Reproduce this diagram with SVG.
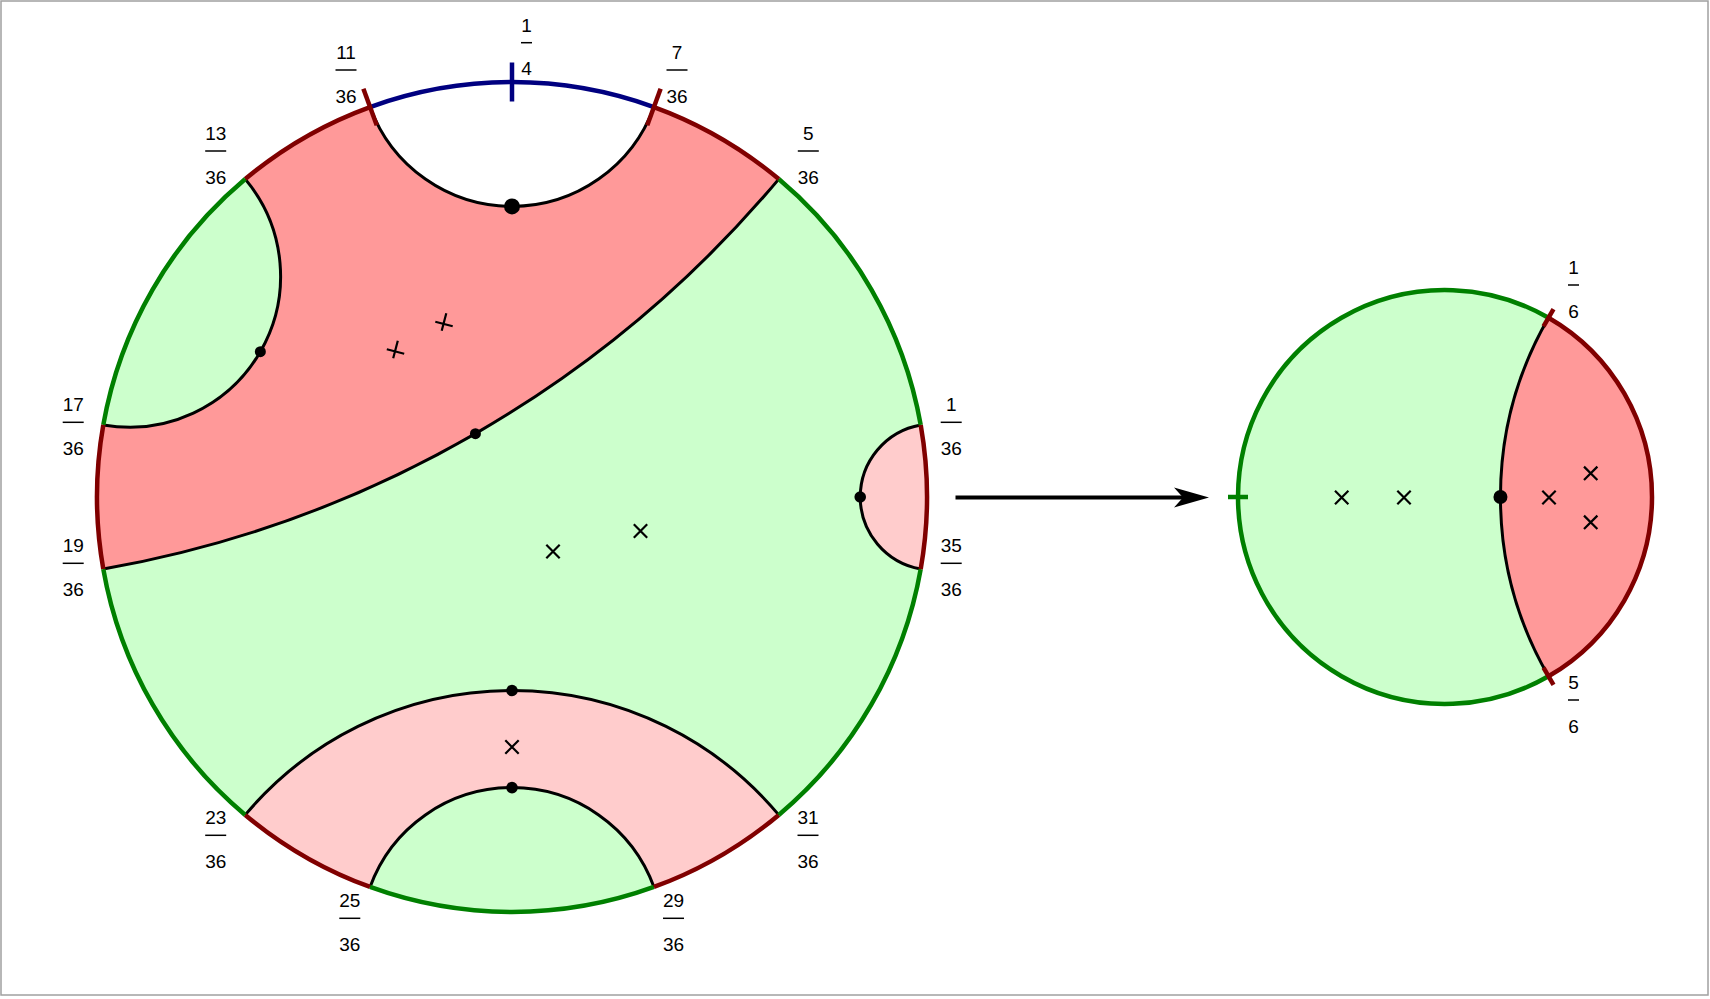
<svg xmlns="http://www.w3.org/2000/svg" width="1710" height="999" viewBox="0 0 1710 999">
<style>
.red{fill:#ff9999;stroke:none}
.pink{fill:#ffcccc;stroke:none}
.grn{fill:#ccffcc;stroke:none}
.geo{fill:none;stroke:#000;stroke-width:3}
.bR{fill:none;stroke:#800000;stroke-width:4.5}
.bG{fill:none;stroke:#008000;stroke-width:4.5}
.bB{fill:none;stroke:#000080;stroke-width:4.5}
.x{fill:none;stroke:#000;stroke-width:2.2}
.lbl{font-family:"Liberation Sans",Arial,sans-serif;font-size:19px;fill:#000;text-anchor:middle}
.bar{stroke:#000;stroke-width:1.5}
</style>
<defs>
<path id="cross" class="x" d="M-6.7,-6.7L6.7,6.7M-6.7,6.7L6.7,-6.7"/>
<g id="f36"><line class="bar" x1="-10.5" y1="0" x2="10.5" y2="0"/><text class="lbl" x="0" y="32.8">36</text></g>
</defs>
<rect x="1" y="1" width="1707" height="994" fill="#fff" stroke="#a0a0a0" stroke-width="1.5"/>

<g id="big-disk">
<path class="red" d="M370.06,107.03 A415,415 0 0 0 245.24,179.09 A151.05,151.05 0 0 1 103.30,424.94 A415,415 0 0 0 103.30,569.06 A1140.2,1140.2 0 0 0 778.76,179.09 A415,415 0 0 0 653.94,107.03 A151.05,151.05 0 0 1 370.06,107.03 Z"/>
<path class="grn" d="M245.24,179.09 A415,415 0 0 0 103.30,424.94 A151.05,151.05 0 0 0 245.24,179.09 Z"/>
<path class="grn" d="M103.30,569.06 A415,415 0 0 0 245.24,814.91 A348.23,348.23 0 0 1 778.76,814.91 A415,415 0 0 0 920.70,569.06 A73.18,73.18 0 0 1 920.70,424.94 A415,415 0 0 0 778.76,179.09 A1140.2,1140.2 0 0 1 103.30,569.06 Z"/>
<path class="pink" d="M920.70,424.94 A415,415 0 0 1 920.70,569.06 A73.18,73.18 0 0 1 920.70,424.94 Z"/>
<path class="pink" d="M245.24,814.91 A415,415 0 0 0 370.06,886.97 A151.05,151.05 0 0 1 653.94,886.97 A415,415 0 0 0 778.76,814.91 A348.23,348.23 0 0 0 245.24,814.91 Z"/>
<path class="grn" d="M370.06,886.97 A415,415 0 0 0 653.94,886.97 A151.05,151.05 0 0 0 370.06,886.97 Z"/>

<path class="geo" d="M653.94,107.03 A151.05,151.05 0 0 1 370.06,107.03"/>
<path class="geo" d="M245.24,179.09 A151.05,151.05 0 0 1 103.30,424.94"/>
<path class="geo" d="M103.30,569.06 A1140.2,1140.2 0 0 0 778.76,179.09"/>
<path class="geo" d="M920.70,569.06 A73.18,73.18 0 0 1 920.70,424.94"/>
<path class="geo" d="M245.24,814.91 A348.23,348.23 0 0 1 778.76,814.91"/>
<path class="geo" d="M370.06,886.97 A151.05,151.05 0 0 1 653.94,886.97"/>

<path class="bB" d="M653.94,107.03 A415,415 0 0 0 370.06,107.03"/>
<path class="bR" d="M370.06,107.03 A415,415 0 0 0 245.24,179.09"/>
<path class="bG" d="M245.24,179.09 A415,415 0 0 0 103.30,424.94"/>
<path class="bR" d="M103.30,424.94 A415,415 0 0 0 103.30,569.06"/>
<path class="bG" d="M103.30,569.06 A415,415 0 0 0 245.24,814.91"/>
<path class="bR" d="M245.24,814.91 A415,415 0 0 0 370.06,886.97"/>
<path class="bG" d="M370.06,886.97 A415,415 0 0 0 653.94,886.97"/>
<path class="bR" d="M653.94,886.97 A415,415 0 0 0 778.76,814.91"/>
<path class="bG" d="M778.76,814.91 A415,415 0 0 0 920.70,569.06"/>
<path class="bR" d="M920.70,569.06 A415,415 0 0 0 920.70,424.94"/>
<path class="bG" d="M920.70,424.94 A415,415 0 0 0 778.76,179.09"/>
<path class="bR" d="M778.76,179.09 A415,415 0 0 0 653.94,107.03"/>

<line class="bR" x1="647.27" y1="125.35" x2="660.61" y2="88.69"/>
<line class="bR" x1="376.73" y1="125.35" x2="363.39" y2="88.69"/>
<line class="bB" x1="512" y1="101.5" x2="512" y2="62.5"/>

<circle cx="512" cy="206.4" r="8"/>
<circle cx="260.35" cy="351.72" r="5.5"/>
<circle cx="475.41" cy="433.63" r="5.5"/>
<circle cx="860.22" cy="497" r="5.8"/>
<circle cx="512" cy="690.52" r="5.8"/>
<circle cx="512" cy="787.58" r="5.8"/>

<g class="x">
<path d="M395.5,351.5 m-8.7,-2.3 l17.4,4.6 m-6.4,-13.0 l-4.6,17.4"/>
<path d="M444,324 m-8.7,-2.3 l17.4,4.6 m-6.4,-13.0 l-4.6,17.4"/>
</g>
<use href="#cross" x="553" y="551.5"/>
<use href="#cross" x="640.5" y="531"/>
<use href="#cross" x="512" y="747"/>
</g>

<g id="small-disk">
<path class="grn" d="M1548.5,317.73 A207,207 0 1 0 1548.5,676.27 A358.54,358.54 0 0 1 1548.5,317.73 Z"/>
<path class="red" d="M1548.5,317.73 A207,207 0 0 1 1548.5,676.27 A358.54,358.54 0 0 1 1548.5,317.73 Z"/>
<path class="geo" d="M1548.5,317.73 A358.54,358.54 0 0 0 1548.5,676.27"/>
<path class="bG" d="M1548.5,317.73 A207,207 0 1 0 1548.5,676.27"/>
<path class="bR" d="M1548.5,317.73 A207,207 0 0 1 1548.5,676.27"/>
<line class="bR" x1="1543.5" y1="326.4" x2="1553.5" y2="309.07"/>
<line class="bR" x1="1543.5" y1="667.6" x2="1553.5" y2="684.93"/>
<line class="bG" x1="1228" y1="497" x2="1248" y2="497"/>
<circle cx="1500.46" cy="497" r="7"/>
<use href="#cross" x="1341.7" y="497.5"/>
<use href="#cross" x="1404" y="497.5"/>
<use href="#cross" x="1549" y="497.5"/>
<use href="#cross" x="1590.7" y="473.3"/>
<use href="#cross" x="1590.7" y="522.3"/>
</g>

<g id="connectors">
<line x1="955.5" y1="497.5" x2="1185" y2="497.5" stroke="#000" stroke-width="4"/>
<path d="M1209,497.5 L1174,487.5 L1183,497.5 L1174,507.5 Z" fill="#000"/>
</g>

<g id="labels">
<g transform="translate(526.5,42.7)"><line class="bar" x1="-5.5" y1="0" x2="5.5" y2="0"/><text class="lbl" x="0" y="-11">1</text><text class="lbl" x="0" y="32.8">4</text></g>
<g transform="translate(346,70)"><use href="#f36"/><text class="lbl" x="0" y="-11">11</text></g>
<g transform="translate(677,70)"><use href="#f36"/><text class="lbl" x="0" y="-11">7</text></g>
<g transform="translate(215.7,151)"><use href="#f36"/><text class="lbl" x="0" y="-11">13</text></g>
<g transform="translate(808.3,151)"><use href="#f36"/><text class="lbl" x="0" y="-11">5</text></g>
<g transform="translate(73.2,422.3)"><use href="#f36"/><text class="lbl" x="0" y="-11">17</text></g>
<g transform="translate(951.2,422.3)"><use href="#f36"/><text class="lbl" x="0" y="-11">1</text></g>
<g transform="translate(73.2,563.3)"><use href="#f36"/><text class="lbl" x="0" y="-11">19</text></g>
<g transform="translate(951.2,563.3)"><use href="#f36"/><text class="lbl" x="0" y="-11">35</text></g>
<g transform="translate(215.7,835.3)"><use href="#f36"/><text class="lbl" x="0" y="-11">23</text></g>
<g transform="translate(808,835.3)"><use href="#f36"/><text class="lbl" x="0" y="-11">31</text></g>
<g transform="translate(349.8,918.3)"><use href="#f36"/><text class="lbl" x="0" y="-11">25</text></g>
<g transform="translate(673.5,918.3)"><use href="#f36"/><text class="lbl" x="0" y="-11">29</text></g>
<g transform="translate(1573.5,285)"><line class="bar" x1="-5.5" y1="0" x2="5.5" y2="0"/><text class="lbl" x="0" y="-11">1</text><text class="lbl" x="0" y="32.8">6</text></g>
<g transform="translate(1573.5,700)"><line class="bar" x1="-5.5" y1="0" x2="5.5" y2="0"/><text class="lbl" x="0" y="-11">5</text><text class="lbl" x="0" y="32.8">6</text></g>
</g>
</svg>
